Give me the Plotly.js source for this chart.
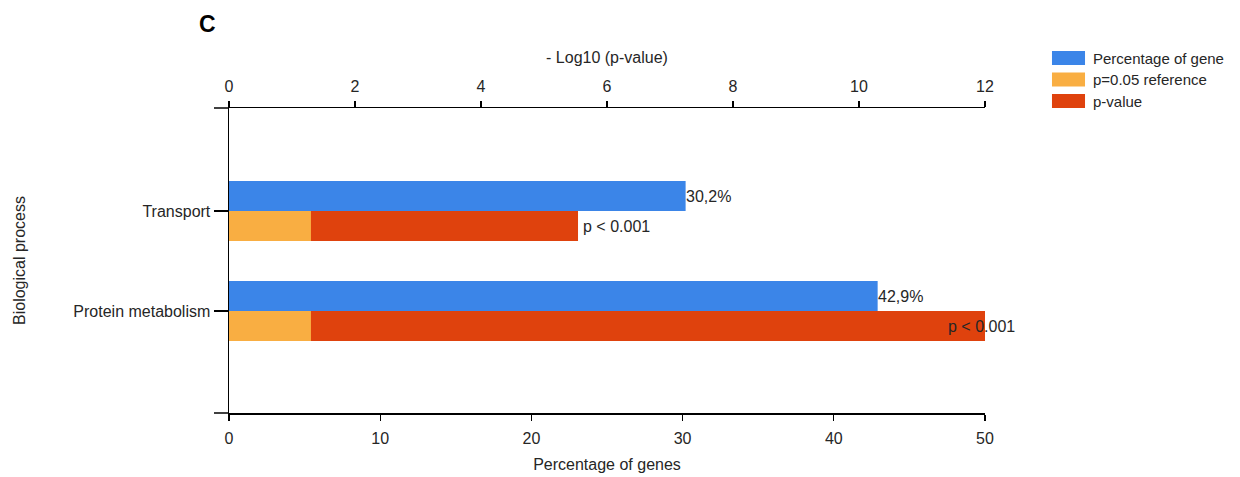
<!DOCTYPE html>
<html>
<head>
<meta charset="utf-8">
<script src="https://cdn.plot.ly/plotly-3.0.1.min.js"></script>
<style>
  html, body { margin: 0; padding: 0; background: #ffffff; }
  #chart { width: 1240px; height: 477px; }
</style>
</head>
<body>
<div id="chart"></div>
<script>
// Biological process categories (top to bottom)
const categories = ['Transport', 'Protein metabolism'];
// Percentage of genes in each process (bottom axis)
const percentGenes = [30.2, 42.9];
const percentLabels = ['30,2%', '42,9%'];
// -log10(p-value) for each process (top axis)
const negLogP = [5.54, 12];
const pLabels = ['p < 0.001', 'p < 0.001'];
// Significance reference: -log10(0.05)
const refP = 0.05;
const refLevel = -Math.log10(refP);

const seriesNames = ['Percentage of gene', 'p=0.05 reference', 'p-value'];
const colors = ['#3b85e8', '#f9ae42', '#df420d'];

const pos = categories.map((_, i) => i + 1);
const font = 'Liberation Sans, Arial, sans-serif';
const txt = '#262626';
const fs = 16;

const traces = [
  {
    type: 'bar', orientation: 'h', name: seriesNames[2],
    x: negLogP, y: pos, xaxis: 'x2', yaxis: 'y',
    width: 0.3, offset: 0, marker: { color: colors[2] },
    showlegend: false, hoverinfo: 'x'
  },
  {
    type: 'bar', orientation: 'h', name: seriesNames[1],
    x: categories.map(() => refLevel), y: pos, xaxis: 'x2', yaxis: 'y',
    width: 0.3, offset: 0, marker: { color: colors[1] },
    showlegend: false, hoverinfo: 'x'
  },
  {
    type: 'bar', orientation: 'h', name: seriesNames[0],
    x: percentGenes, y: pos, xaxis: 'x', yaxis: 'y',
    width: 0.3, offset: -0.3, marker: { color: colors[0] },
    showlegend: false, hoverinfo: 'x'
  }
];

const annotations = [];

// Percentage labels at the end of each blue bar
percentGenes.forEach((v, i) => annotations.push({
  xref: 'x', yref: 'y', x: v, y: pos[i] - 0.15,
  text: percentLabels[i], showarrow: false,
  xanchor: 'left', yanchor: 'middle', xshift: -2,
  font: { family: font, size: fs, color: txt }
}));

// p-value labels at the end of each p-value bar
negLogP.forEach((v, i) => annotations.push({
  xref: 'x2', yref: 'y', x: v, y: pos[i] + 0.15,
  text: pLabels[i], showarrow: false,
  xanchor: 'left', yanchor: 'middle',
  xshift: v >= 12 ? -39 : 3,
  font: { family: font, size: fs, color: txt }
}));

// Panel letter
annotations.push({
  xref: 'paper', yref: 'paper', x: -0.0424, y: 1.276,
  text: '<b>C</b>', showarrow: false, xanchor: 'left', yanchor: 'middle',
  font: { family: 'Liberation Sans, Arial, sans-serif', size: 23, color: '#000' }
});

// Legend entries drawn as swatch + text
const plotH = 305;
const plotW = 756;
const toPaperY = px => 1 - (px - 108) / plotH;
const shapes = [];
const legX0 = 1.0886, legX1 = 1.1323;
seriesNames.forEach((name, i) => {
  const yc = toPaperY(58 + i * 21.5);
  shapes.push({
    type: 'rect', xref: 'paper', yref: 'paper',
    x0: legX0, x1: legX1, y0: yc - 7 / plotH, y1: yc + 7 / plotH,
    fillcolor: colors[i], line: { width: 0 }
  });
  annotations.push({
    xref: 'paper', yref: 'paper', x: legX1 + 0.008, y: yc,
    text: name, showarrow: false, xanchor: 'left', yanchor: 'middle',
    font: { family: font, size: 15, color: txt }
  });
});

// Short extensions of the horizontal axis lines to the left of zero
[0, 1].forEach(yy => shapes.push({
  type: 'line', xref: 'paper', yref: 'paper',
  x0: -15 / plotW, x1: 0, y0: yy, y1: yy,
  line: { color: '#000', width: 1.5 }
}));

// Category tick marks on the left axis (the shared y axis does not draw its own ticks here)
pos.forEach(p => shapes.push({
  type: 'line', xref: 'paper', yref: 'y',
  x0: -14 / plotW, x1: 0, y0: p, y1: p,
  line: { color: '#000', width: 1.5 }
}));

const axisCommon = {
  showgrid: false, zeroline: false, showline: true,
  linecolor: '#000', linewidth: 1.5,
  ticks: 'outside', ticklen: 6, tickcolor: '#000', tickwidth: 1.3,
  tickfont: { family: font, size: fs, color: txt },
  fixedrange: true
};

const layout = {
  width: 1240, height: 477,
  margin: { l: 229, r: 255, t: 108, b: 64, pad: 0 },
  paper_bgcolor: '#ffffff', plot_bgcolor: '#ffffff',
  barmode: 'overlay',
  showlegend: false,
  font: { family: font, color: txt },
  xaxis: Object.assign({}, axisCommon, {
    range: [0, 50], dtick: 10, tick0: 0, side: 'bottom',
    ticklabelstandoff: 4,
    title: { text: 'Percentage of genes', font: { family: font, size: fs, color: txt }, standoff: 13 }
  }),
  xaxis2: Object.assign({}, axisCommon, {
    range: [0, 12], dtick: 2, tick0: 0, side: 'top', overlaying: 'x', anchor: 'y',
    ticklabelstandoff: 2,
    title: { text: '- Log10 (p-value)', font: { family: font, size: fs, color: txt }, standoff: 10 }
  }),
  yaxis: Object.assign({}, axisCommon, {
    range: [3.02, -0.03], tickmode: 'array', tickvals: pos, ticktext: categories,
    anchor: 'x', side: 'left',
    ticks: 'outside', ticklen: 14, tickwidth: 1.5, tickcolor: '#000',
    title: { text: 'Biological process', font: { family: font, size: fs, color: txt }, standoff: 43 }
  }),
  annotations: annotations,
  shapes: shapes
};

Plotly.newPlot('chart', traces, layout, { displayModeBar: false, staticPlot: true });
</script>
</body>
</html>
